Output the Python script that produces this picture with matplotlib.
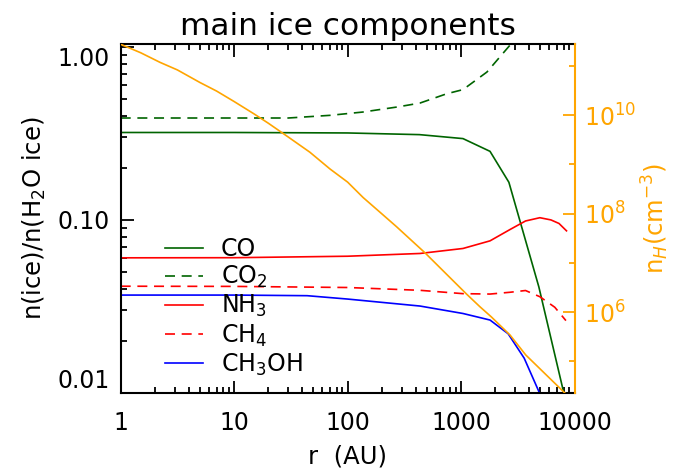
import numpy as np
import matplotlib
matplotlib.use("Agg")
import matplotlib.pyplot as plt
from matplotlib.ticker import FixedLocator, NullFormatter, LogLocator

plt.rcParams['font.family'] = ['DejaVu Sans']
plt.rcParams['mathtext.fontset'] = 'dejavusans'

# ice abundances relative to water ice, vs radius (AU)
r_co = [1, 10, 100, 430, 1040, 1800, 2640, 4850, 8200]
co = [0.320, 0.320, 0.318, 0.311, 0.295, 0.249, 0.165, 0.041, 0.0095]

r_co2 = [1, 30, 70, 136, 272, 433, 750, 1040, 1690, 2690, 3700]
co2 = [0.388, 0.388, 0.402, 0.420, 0.449, 0.473, 0.536, 0.566, 0.715, 1.02, 1.6]

r_nh3 = [1, 10, 100, 435, 650, 1040, 1800, 2700, 3700, 4950, 6200, 7300, 8500]
nh3 = [0.0604, 0.0605, 0.0617, 0.064, 0.066, 0.0684, 0.0757, 0.088, 0.0986,
       0.103, 0.100, 0.0954, 0.0865]

r_ch4 = [1, 10, 100, 435, 1040, 1800, 2700, 3700, 4950, 6700, 8400]
ch4 = [0.0414, 0.0413, 0.0407, 0.0392, 0.0375, 0.0373, 0.0382, 0.0391,
       0.0360, 0.0313, 0.0262]

r_ch3oh = [1, 10, 44, 100, 200, 435, 1040, 1800, 2600, 3600, 4950]
ch3oh = [0.0368, 0.0368, 0.0365, 0.0349, 0.0334, 0.0318, 0.0288, 0.0264,
         0.0220, 0.0159, 0.0099]

# hydrogen density profile, log10 n_H (cm^-3)
r_nh = [1, 1.5, 2.22, 3.16, 5, 7, 10, 15, 20, 30, 46.5, 70, 100, 137, 200,
        270, 480, 1117, 1465, 1850, 2700, 3720, 8220]
log_nh = [11.436, 11.265, 11.07, 10.916, 10.66, 10.487, 10.274, 10.022,
          9.834, 9.553, 9.245, 8.904, 8.638, 8.325, 7.995, 7.732, 7.204,
          6.365, 6.108, 5.90, 5.533, 5.127, 4.355]

species = [
    ('CO', r_co, co, 'darkgreen', '-'),
    ('CO$_2$', r_co2, co2, 'darkgreen', '--'),
    ('NH$_3$', r_nh3, nh3, 'red', '-'),
    ('CH$_4$', r_ch4, ch4, 'red', '--'),
    ('CH$_3$OH', r_ch3oh, ch3oh, 'blue', '-'),
]

orange = '#FFA500'
fs = 17

fig = plt.figure(figsize=(6.85, 4.7), dpi=100)
ax = fig.add_axes([0.1762, 0.1638, 0.6625, 0.7419])

for name, rr, vals, col, ls in species:
    line, = ax.plot(rr, vals, color=col, lw=1.2, label=name)
    if ls == '--':
        line.set_dashes((6, 4))

ax.set_xscale('log')
ax.set_yscale('log')
ax.set_xlim(1, 10000)
ax.set_ylim(0.01, 1.034)

ax.set_xticks([1, 10, 100, 1000, 10000])
ax.set_xticklabels(['1', '10', '100', '1000', '10000'])
ax.xaxis.set_minor_locator(LogLocator(subs=np.arange(2, 10)))
ax.xaxis.set_minor_formatter(NullFormatter())
ax.set_yticks([0.01, 0.1, 1.0])
ax.set_yticklabels(['0.01', '0.10', '1.00'])
ax.yaxis.set_minor_locator(LogLocator(subs=np.arange(2, 10)))
ax.yaxis.set_minor_formatter(NullFormatter())

ax.tick_params(which='both', direction='in', top=True, right=False,
               labelsize=fs, width=1.3)
ax.tick_params(which='major', length=9)
ax.tick_params(which='minor', length=4.5)
ax.tick_params(axis='y', pad=8)
ax.tick_params(axis='x', pad=13)
for s in ax.spines.values():
    s.set_linewidth(1.5)
ax.spines['right'].set_visible(False)

# keep the end labels inside the axis range
yt = ax.yaxis.get_major_ticks()
yt[0].label1.set_va('bottom')
yt[-1].label1.set_va('top')

ax.set_xlabel('r  (AU)', fontsize=fs + 0.5, labelpad=7)
ax.set_ylabel('n(ice)/n(H$_2$O ice)', fontsize=fs + 0.5, labelpad=7)
ax.set_title('main ice components', fontsize=22.5, pad=7)

ax.legend(loc='upper left', bbox_to_anchor=(0.098, 0.448), frameon=False,
          fontsize=fs, handlelength=1.6, handletextpad=0.75,
          labelspacing=0.13, borderpad=0, borderaxespad=0)

# density on the right-hand axis
nh = 10 ** np.array(log_nh)
ax2 = ax.twinx()
ax2.plot(r_nh, nh, color=orange, lw=1.2)
ax2.set_yscale('log')
ax2.set_ylim(nh.min(), nh.max())
ax2.yaxis.set_major_locator(FixedLocator([1e6, 1e8, 1e10]))
ax2.yaxis.set_minor_locator(FixedLocator([1e5, 1e7, 1e9, 1e11]))
ax2.yaxis.set_minor_formatter(NullFormatter())
ax2.set_yticklabels(['10$^6$', '10$^8$', '10$^{10}$'])
ax2.tick_params(which='both', direction='in', colors=orange,
                labelsize=fs, width=1.3, pad=7)
ax2.tick_params(which='major', length=9)
ax2.tick_params(which='minor', length=4.5)
for k in ['left', 'top', 'bottom']:
    ax2.spines[k].set_visible(False)
ax2.spines['right'].set_color(orange)
ax2.spines['right'].set_linewidth(1.5)
ax2.set_ylabel('n$_H$(cm$^{-3}$)', color=orange, fontsize=fs + 0.5, labelpad=2)

fig.savefig('out.png', dpi=100)
